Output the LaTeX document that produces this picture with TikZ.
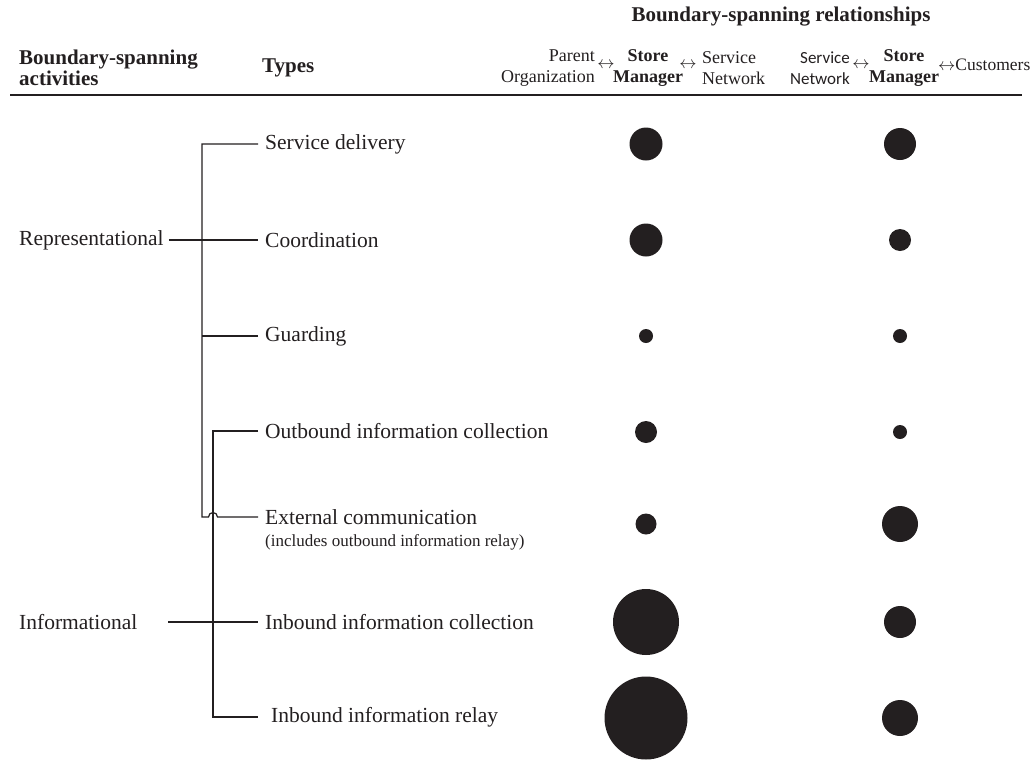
\documentclass[tikz,border=0pt]{standalone}
\usepackage{fontspec}
\setmainfont{Liberation Serif}
\newfontfamily\carlito{Carlito}
\usetikzlibrary{positioning}
\definecolor{ink}{HTML}{231F20}

\begin{document}
\begin{tikzpicture}[x=1pt,y=-1pt,
    every node/.style={text=ink},
    typ/.style={anchor=west,inner xsep=7pt,inner ysep=0pt,font=\fontsize{21.5}{24}\selectfont},
    hd/.style={inner sep=0pt,font=\fontsize{21}{20.5}\selectfont\bfseries},
    col/.style={inner sep=0pt,font=\fontsize{18}{20.5}\selectfont},
    colb/.style={col,align=center,font=\fontsize{18}{20.5}\selectfont\bfseries},
    dot/.style={circle,fill=ink,draw=none,inner sep=0pt},
    link/.style={draw=ink,line width=1.2pt}]

    \useasboundingbox (0,0) rectangle (1034,761);

    % headers
    \node[hd] (rel) at (781,17) {Boundary-spanning relationships};
    \node[hd,anchor=west,align=left] (act) at (19,68) {Boundary-spanning\\activities};
    \node[hd,anchor=west] (types) at (262,68) {Types};

    \node[col,anchor=east,align=right] (po) at (595,68) {Parent\\Organization};
    \node[col] (ar1) at (606,65) {$\leftrightarrow$};
    \node[colb] (sm1) at (648,68) {Store\\Manager};
    \node[col] (ar2) at (688,65) {$\leftrightarrow$};
    \node[col,anchor=west,align=left] (sn1) at (702,68) {Service\\Network};

    \node[col,anchor=east,align=right,font=\carlito\fontsize{17}{20.5}\selectfont] (sn2) at (850,68) {Service\\Network};
    \node[col] (ar3) at (861,65) {$\leftrightarrow$};
    \node[colb] (sm2) at (904,68) {Store\\Manager};
    \node[col,anchor=west,font=\fontsize{17.5}{20}\selectfont] (cu) at (938,65) {$\leftrightarrow$Customers};

    \draw[ink,line width=2pt] (10,95) -- (1022,95);

    % types
    \node[typ] (sd) at (258,144) {Service delivery};
    \node[typ] (co) at (258,240) {Coordination};
    \node[typ] (gu) at (258,336) {Guarding};
    \node[typ] (oc) at (258,431) {Outbound information collection};
    \node[typ] (ec) at (258,517) {External communication};
    \node[typ,font=\fontsize{17}{20}\selectfont] (en) at (258,542) {(includes outbound information relay)};
    \node[typ] (ic) at (258,622) {Inbound information collection};
    \node[typ,inner xsep=13pt] (ir) at (258,717) {Inbound information relay};

    % activities
    \node[typ,inner xsep=0pt] (rep) at (19,240) {Representational};
    \node[typ,inner xsep=0pt] (inf) at (19,622) {Informational};
    \coordinate (infl) at (168,622);
    \coordinate (rbot) at (202,517);
    \coordinate (ibot) at (213,717);

    % brackets
    \draw[link] (sd.west) -| (rbot) -- ++(6.5,0) arc[start angle=180,end angle=0,radius=4.5pt] -- (ec.west);
    \draw[link,shorten <=5pt] (rep.east) -- (co.west);
    \draw[link] (gu.west) -- (gu.west -| rbot);
    \draw[link] (oc.west) -| (ibot) -- (ir.west);
    \draw[link] (infl) -- (ic.west);

    % circles
    \foreach \n/\y/\a/\b in {1/144/33/32, 2/240/33/22, 3/336/14/14, 4/432/22/14,
                             5/524/21/36, 6/622/66/32, 7/718/83/36}
    {
        \node[dot,minimum size=\a pt] (p\n) at (646,\y) {};
        \node[dot,minimum size=\b pt] (c\n) at (900,\y) {};
    }
\end{tikzpicture}
\end{document}
